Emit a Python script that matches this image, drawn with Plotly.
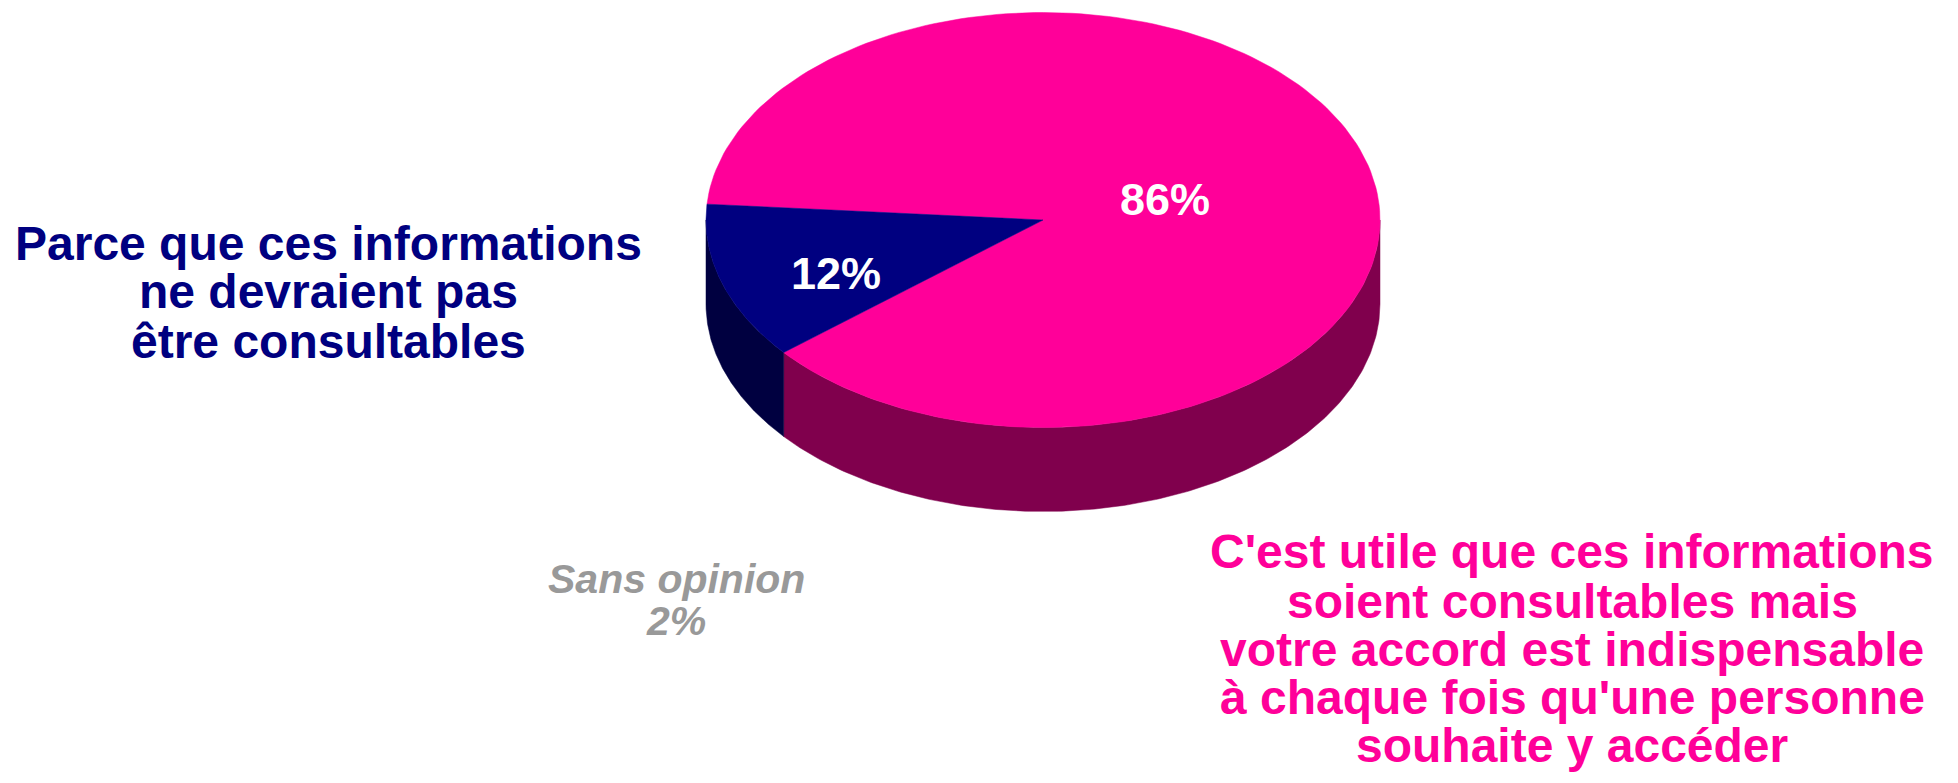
import numpy as np
import plotly.graph_objects as go

# survey answers shown in the pie (the "sans opinion" share is only written, not drawn)
answer_labels = [
    ["C'est utile que ces informations", "soient consultables mais",
     "votre accord est indispensable", "à chaque fois qu'une personne",
     "souhaite y accéder"],
    ["Parce que ces informations", "ne devraient pas", "être consultables"],
]
answer_values = [86, 12]
no_opinion_label = "Sans opinion"
no_opinion_value = 2

top_colors = ["#FF0099", "#000080"]
side_colors = ["#80004D", "#000040"]

# pie geometry in page pixels
W, H = 1958, 783
cx, cy = 1043, 220
rx, ry = 337, 207.5
depth = 84
start_deg = 219.7


def ellipse_pts(t0, t1, dy=0.0, n=200):
    t = np.radians(np.linspace(t0, t1, n))
    return cx + rx * np.cos(t), cy - ry * np.sin(t) + dy


fig = go.Figure()

total = sum(answer_values)
bounds = []
a = start_deg
for v in answer_values:
    b = a + 360.0 * v / total
    bounds.append((a, b))
    a = b

# side walls (front half of the disc only)
for (t0, t1), col in zip(bounds, side_colors):
    for k in range(-1, 3):
        lo = max(t0, 180 + 360 * k)
        hi = min(t1, 360 + 360 * k)
        if hi <= lo:
            continue
        xt, yt = ellipse_pts(lo, hi)
        xb, yb = ellipse_pts(hi, lo, dy=depth)
        fig.add_trace(go.Scatter(
            x=np.concatenate([xt, xb, xt[:1]]), y=np.concatenate([yt, yb, yt[:1]]),
            mode="lines", fill="toself", fillcolor=col, line=dict(width=0.5, color=col),
            hoverinfo="skip", showlegend=False))

# top faces
for (t0, t1), col in zip(bounds, top_colors):
    xs, ys = ellipse_pts(t0, t1)
    fig.add_trace(go.Scatter(
        x=np.concatenate([[cx], xs, [cx]]), y=np.concatenate([[cy], ys, [cy]]),
        mode="lines", fill="toself", fillcolor=col, line=dict(width=0.5, color=col),
        hoverinfo="skip", showlegend=False))

FONT = "Liberation Sans, Arial, sans-serif"
annotations = []


def add_lines(lines, xc, baselines, size, color, style="normal"):
    for txt, base in zip(lines, baselines):
        annotations.append(dict(
            x=xc, y=base - 0.35 * size, xref="x", yref="y", text=txt,
            showarrow=False, xanchor="center", yanchor="middle",
            font=dict(family=FONT, size=size, color=color, weight="bold", style=style)))


# percentages on the slices
pct_pos = [(1165, 215), (836, 289)]
for v, (px, pb) in zip(answer_values, pct_pos):
    add_lines([f"{v}%"], px, [pb], 45, "white")

add_lines(answer_labels[0], 1572, [568, 618, 666, 714, 762], 48, top_colors[0])
add_lines(answer_labels[1], 328, [260, 308, 358], 48, top_colors[1])
add_lines([no_opinion_label, f"{no_opinion_value}%"], 676, [593, 635], 41, "#999999",
          style="italic")

fig.update_xaxes(range=[0, W], visible=False, fixedrange=True)
fig.update_yaxes(range=[H, 0], visible=False, fixedrange=True)
fig.update_layout(
    width=W, height=H,
    margin=dict(l=0, r=0, t=0, b=0),
    paper_bgcolor="white", plot_bgcolor="white",
    annotations=annotations,
)

fig.write_html("out.html", config={"displayModeBar": False},
               post_script="document.body.style.margin='0';")
